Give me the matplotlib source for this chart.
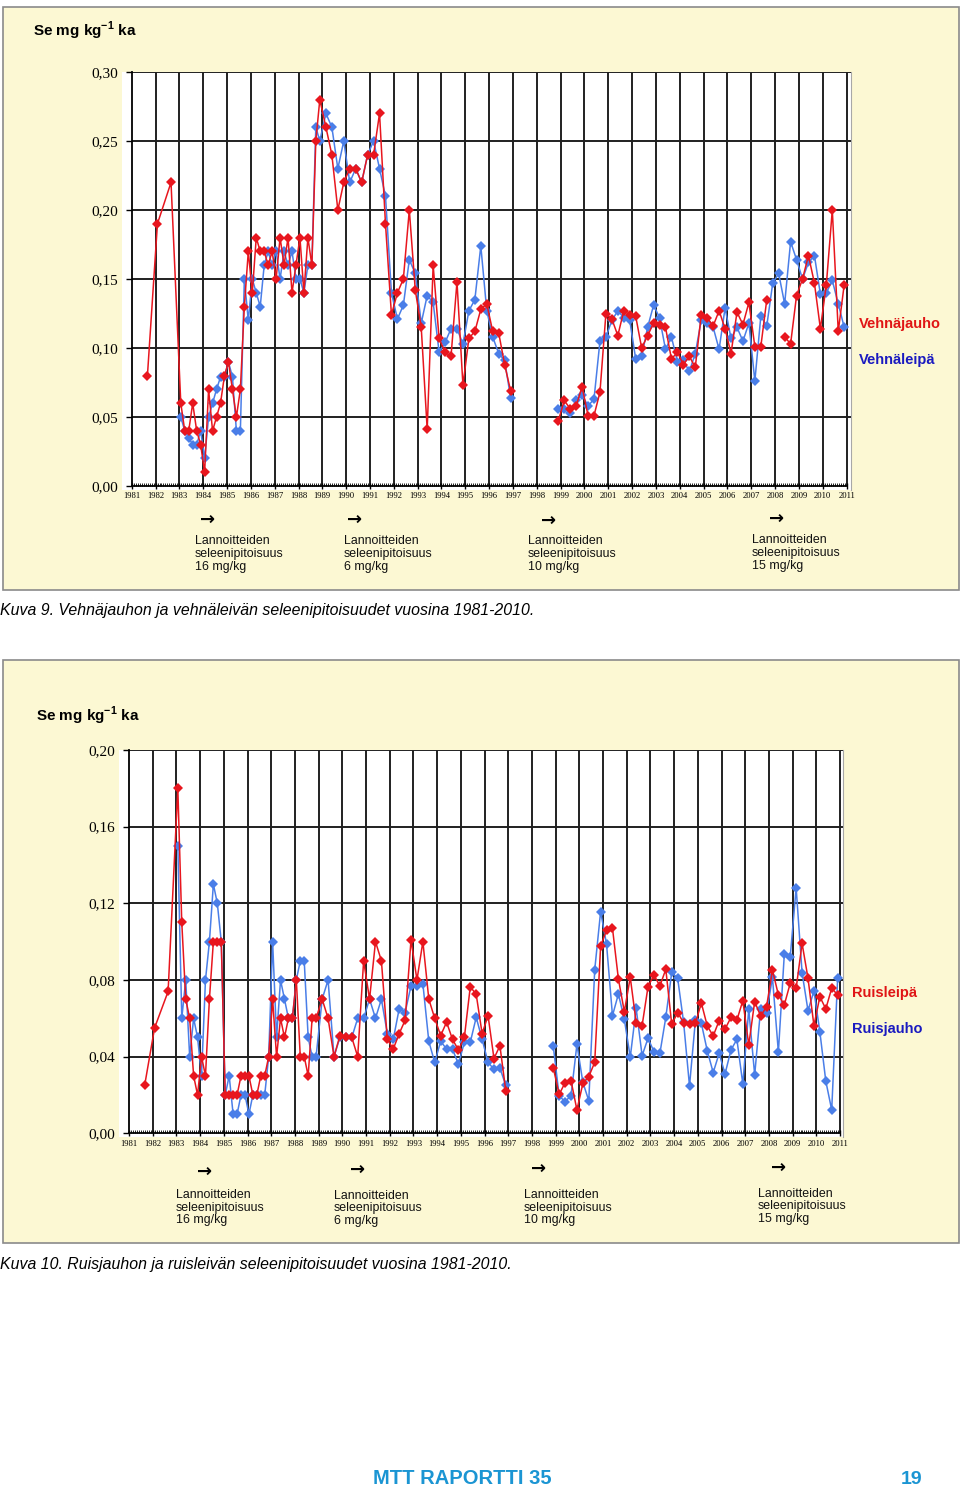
import numpy as np
import matplotlib
matplotlib.use('Agg')
import matplotlib.pyplot as plt
from matplotlib.patches import Rectangle
from matplotlib.ticker import FixedLocator

plt.rcParams['font.family'] = ['Liberation Sans', 'DejaVu Sans']
plt.rcParams['mathtext.fontset'] = 'custom'
plt.rcParams['mathtext.rm'] = 'Liberation Sans'
plt.rcParams['mathtext.bf'] = 'Liberation Sans:bold'

W, H = 960, 1488
RED = '#e8161e'
BLUE = '#4a7ee8'
RED_TXT = '#e01515'
BLUE_TXT = '#1a1ac0'
PANEL = '#fcf8d3'

# sampling dates: a few early samples, bimonthly 1983-1988, quarterly from 1989
early_t = [1981.66, 1982.08, 1982.65]
bimonthly_t = 1983.06 + np.arange(36) / 6
quarterly_t = 1989.15 + np.arange(88) / 4
years = list(range(1981, 2012))
gap = [None] * 7  # 1997-1998, no samples

# Kuva 9: wheat flour (Vehnäjauho) and wheat bread (Vehnäleipä)
wheat_flour_early = [0.08, 0.19, 0.22]
wheat_flour_bim = [0.06, 0.04, 0.04, 0.06, 0.04, 0.03,
                   0.01, 0.07, 0.04, 0.05, 0.06, 0.08,
                   0.09, 0.07, 0.05, 0.07, 0.13, 0.17,
                   0.14, 0.18, 0.17, 0.17, 0.16, 0.17,
                   0.15, 0.18, 0.16, 0.18, 0.14, 0.16,
                   0.18, 0.14, 0.18, 0.16, 0.25, 0.28]
wheat_flour_q = ([0.26, 0.24, 0.20, 0.22, 0.23, 0.23, 0.22, 0.24,
                  0.24, 0.27, 0.19, 0.124, 0.14, 0.15, 0.20, 0.142,
                  0.115, 0.041, 0.16, 0.107, 0.097, 0.094, 0.148, 0.073,
                  0.107, 0.112, 0.128, 0.132, 0.112, 0.111, 0.088, 0.069]
                 + gap +
                 [0.047, 0.062, 0.056, 0.058, 0.072, 0.051, 0.051, 0.068,
                  0.125, 0.121, 0.109, 0.127, 0.124, 0.123, 0.100, 0.109,
                  0.118, 0.117, 0.115, 0.092, 0.097, 0.088, 0.094, 0.086,
                  0.124, 0.122, 0.116, 0.127, 0.114, 0.096, 0.126, 0.117,
                  0.133, 0.101, 0.101, 0.135, None, None, 0.108, 0.103, 0.138,
                  0.15, 0.167, 0.147, 0.114, 0.146, 0.200, 0.112, 0.146])

wheat_bread_bim = [0.05, 0.04, 0.035, 0.03, 0.03, 0.04,
                   0.02, 0.05, 0.06, 0.07, 0.079, 0.079,
                   0.09, 0.079, 0.04, 0.04, 0.15, 0.12,
                   0.15, 0.14, 0.13, 0.16, 0.17, 0.16,
                   0.17, 0.15, 0.17, 0.16, 0.17, 0.15,
                   0.15, 0.14, 0.16, 0.16, 0.26, 0.25]
wheat_bread_q = ([0.27, 0.26, 0.23, 0.25, 0.22, 0.23, 0.22, 0.24,
                  0.25, 0.23, 0.21, 0.14, 0.121, 0.131, 0.164, 0.154,
                  0.118, 0.138, 0.133, 0.097, 0.104, 0.114, 0.114, 0.103,
                  0.127, 0.135, 0.174, 0.127, 0.108, 0.096, 0.091, 0.064]
                 + gap +
                 [0.056, 0.056, 0.053, 0.062, 0.066, 0.058, 0.063, 0.105,
                  0.108, 0.12, 0.127, 0.122, 0.120, 0.092, 0.094, 0.115,
                  0.131, 0.122, 0.099, 0.108, 0.090, 0.091, 0.083, 0.096,
                  0.120, 0.118, 0.115, 0.099, 0.129, 0.107, 0.115, 0.105,
                  0.118, 0.076, 0.123, 0.116, 0.147, 0.154, 0.132, 0.177, 0.164,
                  0.150, 0.162, 0.167, 0.139, 0.140, 0.149, 0.132, 0.115])

# Kuva 10: rye bread (Ruisleipä) and rye flour (Ruisjauho)
rye_bread_early = [0.025, 0.055, 0.074]
rye_bread_bim = [0.18, 0.11, 0.07, 0.06, 0.03, 0.02,
                 0.04, 0.03, 0.07, 0.10, 0.10, 0.10,
                 0.02, 0.02, 0.02, 0.02, 0.03, 0.03,
                 0.03, 0.02, 0.02, 0.03, 0.03, 0.04,
                 0.07, 0.04, 0.06, 0.05, 0.06, 0.06,
                 0.08, 0.04, 0.04, 0.03, 0.06, 0.06]
rye_bread_q = ([0.07, 0.06, 0.04, 0.051, 0.05, 0.05, 0.04, 0.09,
                0.07, 0.10, 0.09, 0.049, 0.044, 0.052, 0.059, 0.101,
                0.08, 0.10, 0.07, 0.06, 0.051, 0.058, 0.049, 0.0435,
                0.05, 0.0765, 0.0725, 0.052, 0.0614, 0.039, 0.0457, 0.022]
               + gap +
               [0.0343, 0.0203, 0.0264, 0.0275, 0.0122, 0.026, 0.0296, 0.037,
                0.0977, 0.106, 0.107, 0.0805, 0.0635, 0.0814, 0.0577, 0.0562,
                0.0765, 0.0826, 0.0769, 0.0856, 0.0569, 0.063, 0.0577, 0.0569,
                0.0574, 0.068, 0.056, 0.0508, 0.0588, 0.0544, 0.0605, 0.0591,
                0.0692, 0.0461, 0.0687, 0.0612, 0.066, 0.0852, 0.0722, 0.067, 0.0783,
                0.0757, 0.0991, 0.0809, 0.0562, 0.0713, 0.0649, 0.0757, 0.0722])

rye_flour_bim = [0.15, 0.06, 0.08, 0.04, 0.06, 0.05,
                 0.03, 0.08, 0.10, 0.13, 0.12, 0.10,
                 0.02, 0.03, 0.01, 0.01, 0.02, 0.02,
                 0.01, 0.02, 0.02, 0.02, 0.02, 0.04,
                 0.10, 0.05, 0.08, 0.07, 0.06, 0.06,
                 0.08, 0.09, 0.09, 0.05, 0.04, 0.04]
rye_flour_q = ([0.07, 0.08, 0.04, 0.05, 0.05, 0.05, 0.06, 0.06,
                0.07, 0.06, 0.07, 0.052, 0.049, 0.065, 0.063, 0.077,
                0.077, 0.078, 0.048, 0.037, 0.048, 0.044, 0.044, 0.036,
                0.0475, 0.0475, 0.0605, 0.049, 0.037, 0.0334, 0.034, 0.025]
               + gap +
               [0.0457, 0.0195, 0.0165, 0.0197, 0.0464, 0.0266, 0.017, 0.0852,
                0.1157, 0.0986, 0.0614, 0.0727, 0.0595, 0.0397, 0.0652, 0.0405,
                0.0496, 0.0426, 0.0417, 0.0605, 0.084, 0.0809, 0.058, 0.0247,
                0.059, 0.0574, 0.043, 0.0317, 0.0417, 0.031, 0.0435, 0.049,
                0.0257, 0.0647, 0.0304, 0.0649, 0.0626, 0.0814, 0.0423, 0.0934, 0.0922,
                0.128, 0.0838, 0.064, 0.0743, 0.053, 0.0273, 0.0122, 0.0809])

note_lines = ['Lannoitteiden', 'seleenipitoisuus']
note_doses = ['16 mg/kg', '6 mg/kg', '10 mg/kg', '15 mg/kg']

all_t = np.concatenate([early_t, bimonthly_t, quarterly_t])


def series(early, bim, q):
    return np.array(early + bim + q, dtype=float)


def fpos(x, y):
    return x / W, 1 - y / H


fig = plt.figure(figsize=(W / 100, H / 100), dpi=100)

for top, bot in [(7, 590), (660, 1243)]:
    fig.patches.append(Rectangle(fpos(3, bot), 956 / W, (bot - top) / H,
                                 transform=fig.transFigure, facecolor=PANEL,
                                 edgecolor='#8a8a8a', lw=1.2, zorder=-10))


def draw_chart(x1981, ppy, ytop, ybot, ymax, ystep, right_px, lines):
    left_px = x1981 - 10
    bot_px = ybot + 4
    ppu = (ybot - ytop) / ymax
    ax = fig.add_axes([left_px / W, 1 - bot_px / H,
                       (right_px - left_px) / W, (bot_px - ytop) / H])
    xmax = 1981 + (right_px - x1981) / ppy
    ax.set_xlim(1981 - 10 / ppy, xmax)
    ax.set_ylim(-4 / ppu, ymax)
    ax.set_facecolor('white')
    yt = np.round(np.arange(0, ymax + 1e-9, ystep), 3)
    ax.vlines(years[1:], 0, ymax, color='#202020', lw=1.4, zorder=1)
    ax.hlines(yt[1:], 1981, xmax, color='#202020', lw=1.4, zorder=1)
    for side in ['left', 'bottom']:
        ax.spines[side].set_color('black')
        ax.spines[side].set_linewidth(1.3)
    ax.spines['left'].set_position(('data', 1981))
    ax.spines['bottom'].set_position(('data', 0))
    ax.spines['left'].set_bounds(0, ymax)
    ax.spines['bottom'].set_bounds(1981, 2011)
    ax.spines['top'].set_visible(False)
    ax.spines['right'].set_color('#a8a8a8')
    ax.spines['right'].set_linewidth(0.8)

    ax.set_xticks(years)
    ax.set_xticklabels([str(y) for y in years])
    ax.xaxis.set_minor_locator(FixedLocator([1981 + i / 12 for i in range(361) if i % 12]))
    ax.set_yticks(yt)
    ax.set_yticklabels([f'{v:.2f}'.replace('.', ',') for v in yt])
    ax.tick_params(axis='x', which='major', direction='inout', length=5, width=1,
                   labelsize=6.2, pad=2)
    ax.tick_params(axis='x', which='minor', direction='in', length=2.5, width=0.6)
    ax.tick_params(axis='y', which='major', direction='out', length=4, width=1,
                   labelsize=11, pad=6)
    for lab in ax.get_xticklabels() + ax.get_yticklabels():
        lab.set_family('Liberation Serif')

    for vals, color, z in lines:
        ax.plot(all_t, vals, color=color, lw=1.1, marker='D', ms=5, mew=0,
                zorder=z, clip_on=False)
    return ax


# Kuva 9
draw_chart(131.7, 23.83, 72, 486, 0.30, 0.05, 850.6, [
    (series([None] * 3, wheat_bread_bim, wheat_bread_q), BLUE, 3),
    (series(wheat_flour_early, wheat_flour_bim, wheat_flour_q), RED, 4),
])
# Kuva 10
draw_chart(129.0, 23.7, 750, 1133.3, 0.20, 0.04, 843.3, [
    (series([None] * 3, rye_flour_bim, rye_flour_q), BLUE, 3),
    (series(rye_bread_early, rye_bread_bim, rye_bread_q), RED, 4),
])

title = r'Se mg kg$^{\mathbf{-1}}$ ka'
fig.text(*fpos(33, 31), title, fontsize=11, fontweight='bold', va='center', ha='left')
fig.text(*fpos(36, 716), title, fontsize=11, fontweight='bold', va='center', ha='left')

for x, y, txt, col in [(859, 324, 'Vehnäjauho', RED_TXT), (859, 360, 'Vehnäleipä', BLUE_TXT),
                       (852, 993, 'Ruisleipä', RED_TXT), (852, 1029, 'Ruisjauho', BLUE_TXT)]:
    fig.text(*fpos(x, y), txt, color=col, fontsize=10.5, fontweight='bold',
             va='center', ha='left')

arrows1 = [(208, 520), (355, 520), (549, 521), (777, 519)]
notes1 = [(195, 541), (344, 541), (528, 541), (752, 540)]
arrows2 = [(205, 1172), (358, 1170), (539, 1169), (779, 1168)]
notes2 = [(176, 1195), (334, 1196), (524, 1195), (758, 1194)]
for arrows, notes, step in [(arrows1, notes1, 13), (arrows2, notes2, 12.5)]:
    for (ax_, ay), (nx, ny), dose in zip(arrows, notes, note_doses):
        fig.text(*fpos(ax_, ay), '\u2192', family='DejaVu Sans', fontweight='bold',
                 fontsize=13, ha='center', va='center')
        for i, line in enumerate(note_lines + [dose]):
            fig.text(*fpos(nx, ny + i * step), line, fontsize=8.9, ha='left', va='center',
                     color='#111111')

fig.text(*fpos(0, 611), 'Kuva 9. Vehnäjauhon ja vehnäleivän seleenipitoisuudet vuosina 1981-2010.',
         fontsize=11.4, style='italic', ha='left', va='center')
fig.text(*fpos(0, 1265), 'Kuva 10. Ruisjauhon ja ruisleivän seleenipitoisuudet vuosina 1981-2010.',
         fontsize=11.4, style='italic', ha='left', va='center')

fig.text(*fpos(462, 1478), 'MTT RAPORTTI 35', color='#1b95d3', fontsize=14.5,
         fontweight='bold', ha='center', va='center')
fig.text(*fpos(912, 1479), '19', color='#1b95d3', fontsize=14,
         fontweight='bold', ha='center', va='center')

fig.savefig('out.png', dpi=100)
